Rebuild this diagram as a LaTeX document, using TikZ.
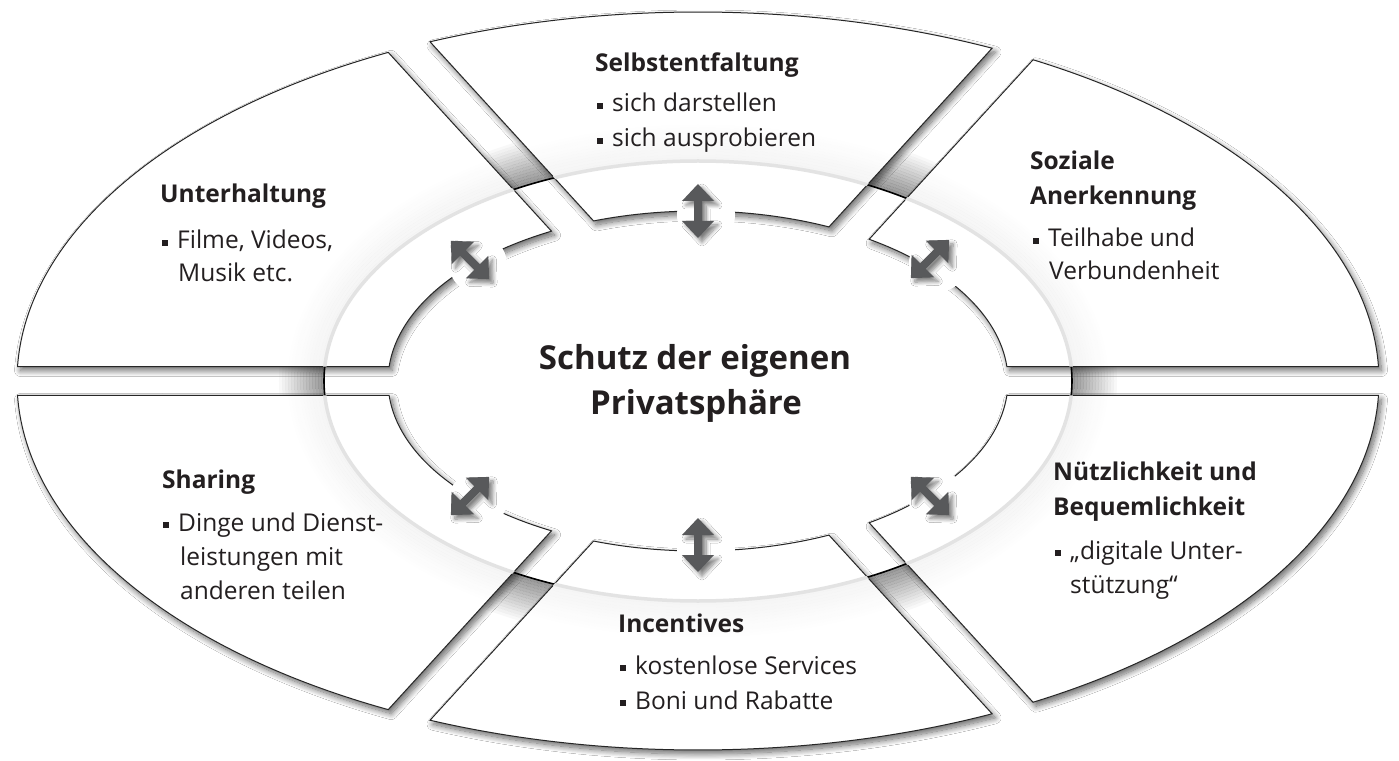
\documentclass[tikz,border=0pt]{standalone}
\usepackage{fontspec}
\setmainfont{Open Sans}
\usetikzlibrary{shadows.blur}
\definecolor{arrowgray}{HTML}{58595B}
\definecolor{inkdark}{HTML}{231F20}

% Parameter angle where the ray (x0,y0)+s(ux,uy) leaves the ellipse with semi-axes a,b
% #1 result macro, #2 x0, #3 y0, #4 ux, #5 uy, #6 a, #7 b  (all in units of 100pt)
\newcommand\cutang[7]{%
  \pgfmathsetmacro\ctA{(#4)*(#4)/((#6)*(#6))+(#5)*(#5)/((#7)*(#7))}%
  \pgfmathsetmacro\ctB{2*((#2)*(#4)/((#6)*(#6))+(#3)*(#5)/((#7)*(#7)))}%
  \pgfmathsetmacro\ctC{(#2)*(#2)/((#6)*(#6))+(#3)*(#3)/((#7)*(#7))-1}%
  \pgfmathsetmacro\ctS{(-\ctB+sqrt(\ctB*\ctB-4*\ctA*\ctC))/(2*\ctA)}%
  \pgfmathsetmacro#1{atan2(((#3)+\ctS*(#5))/(#7),((#2)+\ctS*(#4))/(#6))}%
}
% one ring sector: outer arc o1->o2, inner arc i2->i1
\newcommand\segshape[4]{(#1:681 and 369) arc[start angle=#1, end angle=#2, x radius=681, y radius=369]
  -- (#4:310 and 170) arc[start angle=#4, end angle=#3, x radius=310, y radius=170] -- cycle}
% double-headed arrow with a white patch behind it
\newcommand\twoarrow[3]{%
  \begin{scope}[shift={(#1,#2)}]
    \fill[white] (8,-4) circle (29);
    \fill[arrowbody] (#3:27) -- ({#3+58}:18.87) -- ({#3+21.8}:10.77) -- ({#3+158.2}:10.77)
      -- ({#3+122}:18.87) -- ({#3+180}:27) -- ({#3-122}:18.87) -- ({#3-158.2}:10.77)
      -- ({#3-21.8}:10.77) -- ({#3-58}:18.87) -- cycle;
  \end{scope}}
\newcommand\bulletmark{\rule[3pt]{6pt}{6pt}\hspace{9pt}}

\begin{document}
\begin{tikzpicture}[x=1pt,y=1pt,
  seg/.style={fill=white, draw=black!85, line width=1pt,
    blur shadow={shadow xshift=3pt, shadow yshift=-4pt, shadow blur radius=6pt,
      shadow blur steps=12, shadow opacity=60}},
  arrowbody/.style={fill=arrowgray,
    blur shadow={shadow xshift=4pt, shadow yshift=-4pt, shadow blur radius=4pt,
      shadow blur steps=8, shadow opacity=50}},
  body/.style={anchor=base west, inner sep=0pt, text=inkdark, font=\fontsize{24.5}{28}\selectfont},
  head/.style={body, font=\fontsize{24.5}{28}\selectfont\bfseries},
  title/.style={anchor=base, inner sep=0pt, text=inkdark, font=\fontsize{33}{38}\selectfont\bfseries}]

% sector corner angles
\def\Oa{6.81}\def\Ob{3.69}\def\Ia{3.10}\def\Ib{1.70}
\cutang\TRoa{0}{0.145}{1}{0}{\Oa}{\Ob}
\cutang\TRia{0}{0.145}{1}{0}{\Ia}{\Ib}
\cutang\TRob{0.3003}{-0.1281}{0.6743}{0.7385}{\Oa}{\Ob}
\cutang\TRib{0.3003}{-0.1281}{0.6743}{0.7385}{\Ia}{\Ib}
\cutang\Toa{0.0197}{0.1281}{0.6743}{0.7385}{\Oa}{\Ob}
\cutang\Tia{0.0197}{0.1281}{0.6743}{0.7385}{\Ia}{\Ib}
\cutang\Tob{0.3003}{0.1281}{-0.6743}{0.7385}{\Oa}{\Ob}
\cutang\Tib{0.3003}{0.1281}{-0.6743}{0.7385}{\Ia}{\Ib}
\cutang\TLoa{0.0197}{-0.1281}{-0.6743}{0.7385}{\Oa}{\Ob}
\cutang\TLia{0.0197}{-0.1281}{-0.6743}{0.7385}{\Ia}{\Ib}
\cutang\TLob{0}{0.145}{-1}{0}{\Oa}{\Ob}
\cutang\TLib{0}{0.145}{-1}{0}{\Ia}{\Ib}
\cutang\BLoa{0}{-0.145}{-1}{0}{\Oa}{\Ob}
\cutang\BLia{0}{-0.145}{-1}{0}{\Ia}{\Ib}
\cutang\BLob{0.0197}{0.1281}{-0.6743}{-0.7385}{\Oa}{\Ob}
\cutang\BLib{0.0197}{0.1281}{-0.6743}{-0.7385}{\Ia}{\Ib}
\cutang\Boa{0.3003}{-0.1281}{-0.6743}{-0.7385}{\Oa}{\Ob}
\cutang\Bia{0.3003}{-0.1281}{-0.6743}{-0.7385}{\Ia}{\Ib}
\cutang\Bob{0.0197}{-0.1281}{0.6743}{-0.7385}{\Oa}{\Ob}
\cutang\Bib{0.0197}{-0.1281}{0.6743}{-0.7385}{\Ia}{\Ib}
\cutang\BRoa{0.3003}{0.1281}{0.6743}{-0.7385}{\Oa}{\Ob}
\cutang\BRia{0.3003}{0.1281}{0.6743}{-0.7385}{\Ia}{\Ib}
\cutang\BRob{0}{-0.145}{1}{0}{\Oa}{\Ob}
\cutang\BRib{0}{-0.145}{1}{0}{\Ia}{\Ib}

% canvas
\fill[white] (-698,-379) rectangle (701,381);
\useasboundingbox (-698,-379) rectangle (701,381);

% soft shade just outside the ring line (seen in the gaps)
\foreach \k in {0,...,14}{
  \pgfmathsetmacro\op{0.40*(1-\k/15)}
  \draw[black, opacity=\op, line width=3pt] (0,0) ellipse ({375.5+3*\k} and {221.5+3*\k});
}
\fill[white] (0,0) ellipse (374 and 220);
\draw[black, line width=1.6pt] (0,0) ellipse (374 and 220);

% the six sectors
\path[seg] \segshape{\TRoa}{\TRob}{\TRia}{\TRib};
\path[seg] \segshape{\Toa}{\Tob}{\Tia}{\Tib};
\path[seg] \segshape{\TLoa}{\TLob}{\TLia}{\TLib};
\path[seg] \segshape{\BLoa}{\BLob}{\BLia}{\BLib};
\path[seg] \segshape{\Boa}{\Bob}{\Bia}{\Bib};
\path[seg] \segshape{\BRoa}{\BRob}{\BRia}{\BRib};

% light ring line with its faint halo, on the sectors only
\begin{scope}
  \clip \segshape{\TRoa}{\TRob}{\TRia}{\TRib} \segshape{\Toa}{\Tob}{\Tia}{\Tib}
        \segshape{\TLoa}{\TLob}{\TLia}{\TLib} \segshape{\BLoa}{\BLob}{\BLia}{\BLib}
        \segshape{\Boa}{\Bob}{\Bia}{\Bib} \segshape{\BRoa}{\BRob}{\BRia}{\BRib};
  \foreach \k in {0,...,11}{
    \pgfmathsetmacro\op{0.04*(1-\k/12)}
    \draw[black, opacity=\op, line width=3pt] (0,0) ellipse ({376+3*\k} and {222+3*\k});
  }
  \draw[black!11, line width=3.5pt] (0,0) ellipse (374 and 220);
\end{scope}

% arrows between the core and the sectors
\twoarrow{0}{170}{90}
\twoarrow{0}{-164}{90}
\twoarrow{-228}{121}{-45}
\twoarrow{232}{122}{45}
\twoarrow{-228}{-115}{45}
\twoarrow{232}{-115}{-45}

% texts
\node[head] (selbst) at (-103,309) {Selbstentfaltung};
\node[body] (selbst1) at (-101,269) {\bulletmark sich darstellen};
\node[body] (selbst2) at (-101,234) {\bulletmark sich ausprobieren};

\node[head] (unter) at (-538,178) {Unterhaltung};
\node[body] (unter1) at (-536,132) {\bulletmark Filme, Videos,};
\node[body] (unter2) at (-520,99) {Musik etc.};

\node[head] (sozial1) at (332,211) {Soziale};
\node[head] (sozial2) at (332,176) {Anerkennung};
\node[body] (sozial3) at (335,134) {\bulletmark Teilhabe und};
\node[body] (sozial4) at (351,101) {Verbundenheit};

\node[title] (schutz1) at (-3,12) {Schutz der eigenen};
\node[title] (schutz2) at (-2,-33) {Privatsphäre};

\node[head] (sharing) at (-536,-107) {Sharing};
\node[body] (sharing1) at (-535,-150) {\bulletmark Dinge und Dienst-};
\node[body] (sharing2) at (-518,-184) {leistungen mit};
\node[body] (sharing3) at (-518,-218) {anderen teilen};

\node[head] (nutz1) at (355,-99) {Nützlichkeit und};
\node[head] (nutz2) at (355,-134) {Bequemlichkeit};
\node[body] (nutz3) at (357,-178) {\bulletmark „digitale Unter-};
\node[body] (nutz4) at (372,-212) {stützung“};

\node[head] (incent) at (-80,-251) {Incentives};
\node[body] (incent1) at (-78,-293) {\bulletmark kostenlose Services};
\node[body] (incent2) at (-78,-328) {\bulletmark Boni und Rabatte};
\end{tikzpicture}
\end{document}
